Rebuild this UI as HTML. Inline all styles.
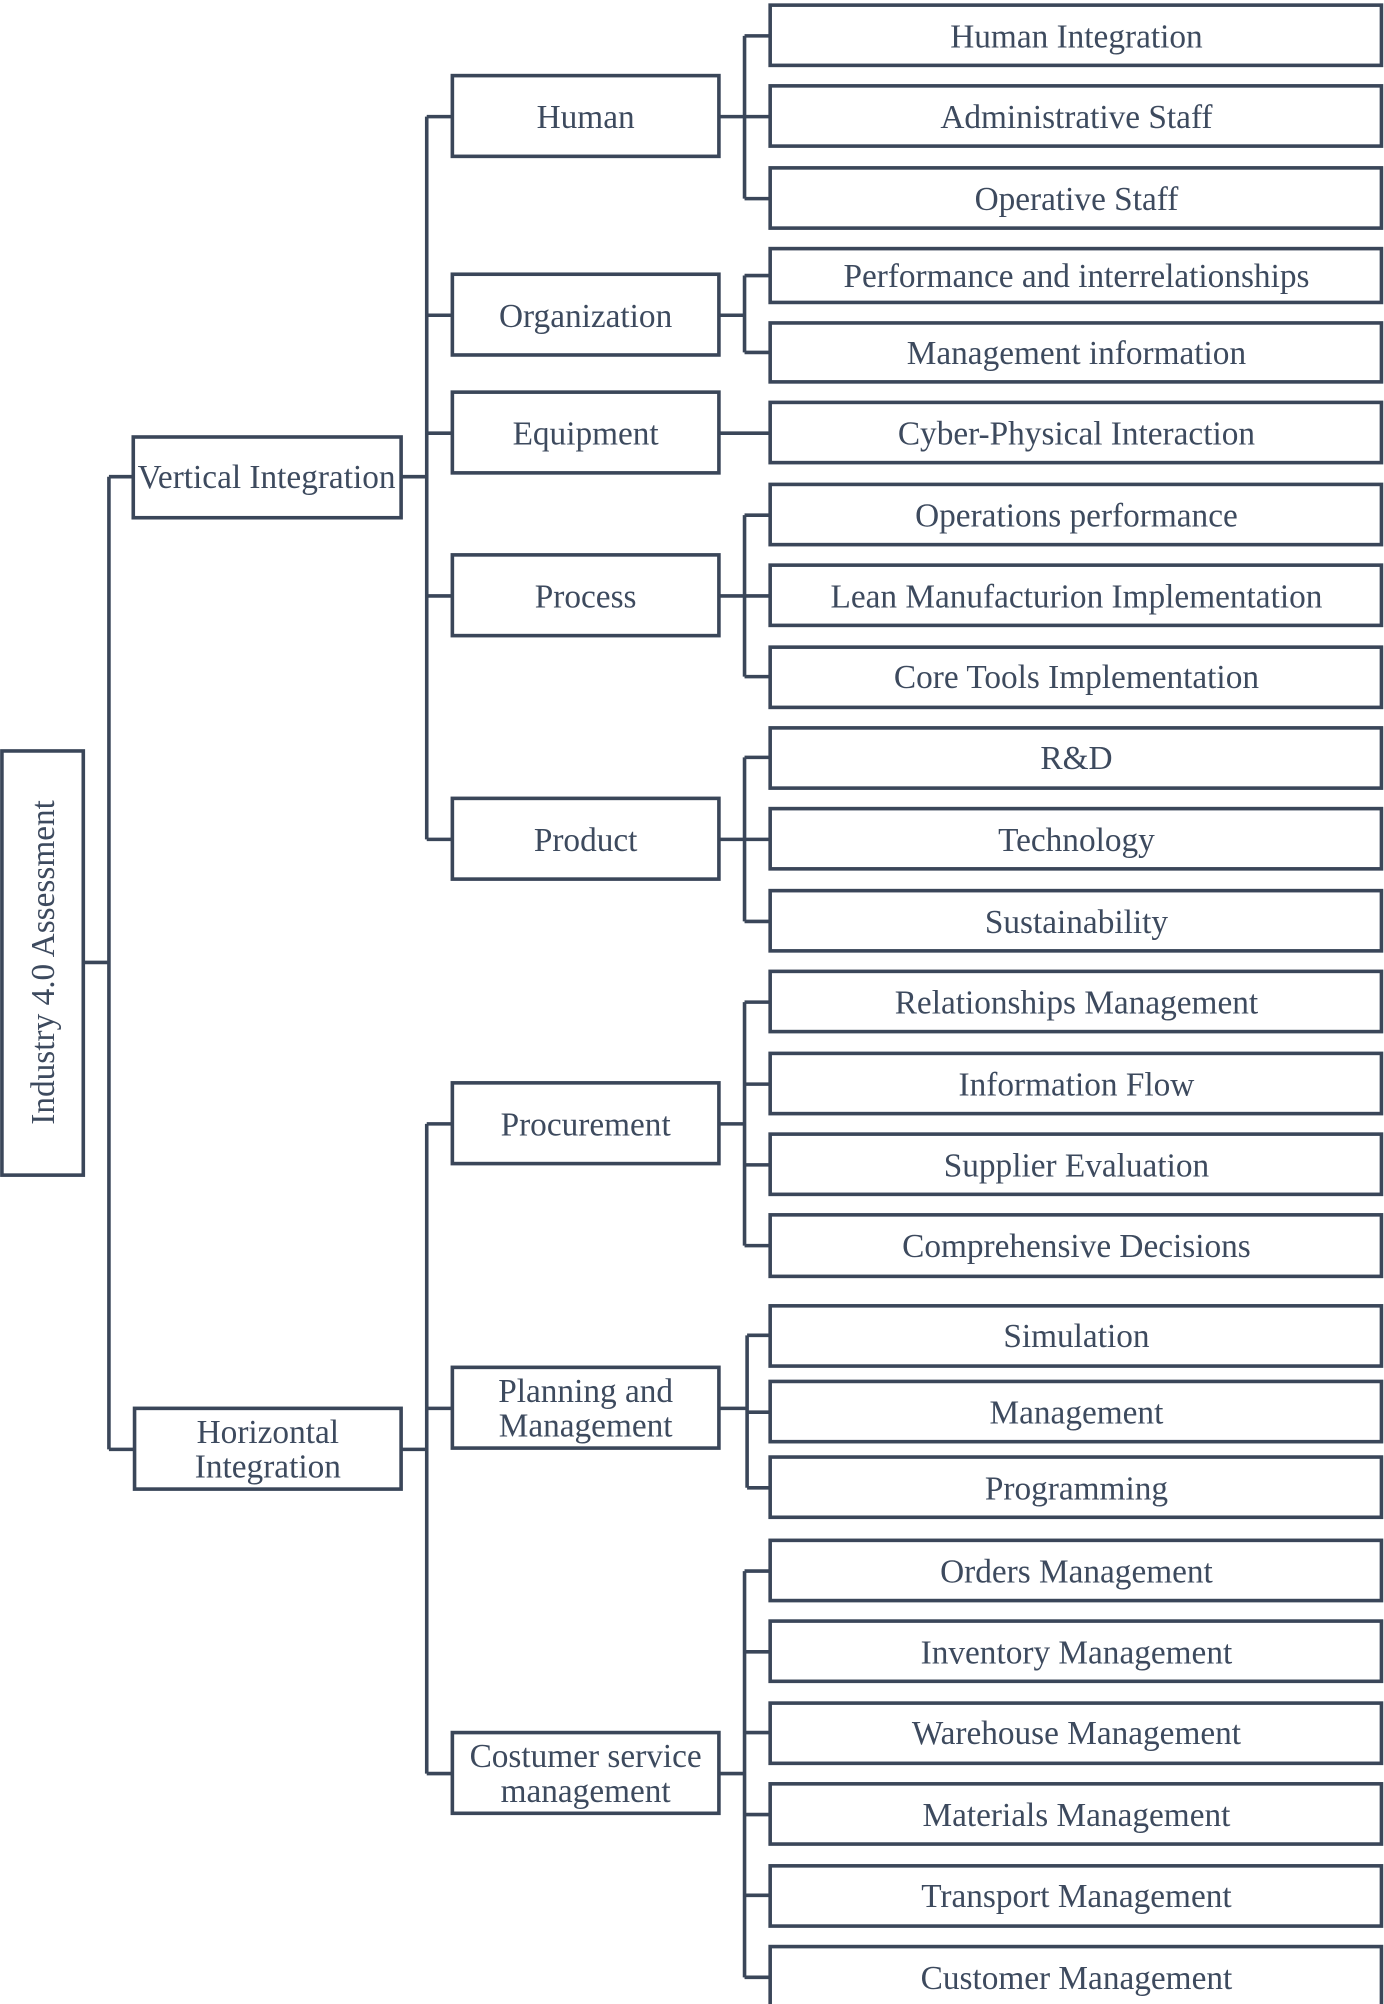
<!DOCTYPE html>
<html><head><meta charset="utf-8"><style>
html,body{margin:0;padding:0;background:#fff;}
svg{display:block;}
text{font-family:"Liberation Serif",serif;fill:#3d4a5e;font-size:26px;text-anchor:middle;}
</style></head><body>
<svg width="1384" height="2004" viewBox="0 0 1080 1563.8" xmlns="http://www.w3.org/2000/svg">
<g fill="none" stroke="#3a4659" stroke-width="2.8">
<rect x="1.5" y="586" width="63.5" height="331"/>
<path d="M65 751 H85 M85 372 V1131 M85 372 H104 M85 1131 H105"/>
<rect x="104" y="341" width="209" height="63"/>
<rect x="105" y="1099" width="208" height="63"/>
<path d="M313 372 H333 M333 91 V655 M333 91 H353 M333 246 H353 M333 338 H353 M333 465 H353 M333 655 H353"/>
<rect x="353" y="59" width="208" height="63"/>
<rect x="353" y="214" width="208" height="63"/>
<rect x="353" y="306" width="208" height="63"/>
<rect x="353" y="433" width="208" height="63"/>
<rect x="353" y="623" width="208" height="63"/>
<path d="M313 1131 H333 M333 877 V1384 M333 877 H353 M333 1099 H353 M333 1384 H353"/>
<rect x="353" y="845" width="208" height="63"/>
<rect x="353" y="1067" width="208" height="63"/>
<rect x="353" y="1352" width="208" height="63"/>
<path d="M561 91 H581 M581 28 V155 M581 28 H601 M581 91 H601 M581 155 H601"/>
<path d="M561 246 H581 M581 215 V275 M581 215 H601 M581 275 H601"/>
<path d="M561 338 H601"/>
<path d="M561 465 H581 M581 402 V528 M581 402 H601 M581 465 H601 M581 528 H601"/>
<path d="M561 655 H581 M581 591 V719 M581 591 H601 M581 655 H601 M581 719 H601"/>
<path d="M561 877 H581 M581 782 V972 M581 782 H601 M581 846 H601 M581 909 H601 M581 972 H601"/>
<path d="M561 1099 H583 M583 1042 V1161 M583 1042 H601 M583 1102 H601 M583 1161 H601"/>
<path d="M561 1384 H581 M581 1226 V1543 M581 1226 H601 M581 1289 H601 M581 1352 H601 M581 1416 H601 M581 1479 H601 M581 1543 H601"/>
<rect x="601" y="4" width="477" height="47"/>
<rect x="601" y="67" width="477" height="47"/>
<rect x="601" y="131" width="477" height="47"/>
<rect x="601" y="194" width="477" height="42"/>
<rect x="601" y="252" width="477" height="46"/>
<rect x="601" y="314" width="477" height="47"/>
<rect x="601" y="378" width="477" height="47"/>
<rect x="601" y="441" width="477" height="47"/>
<rect x="601" y="505" width="477" height="47"/>
<rect x="601" y="568" width="477" height="47"/>
<rect x="601" y="631" width="477" height="47"/>
<rect x="601" y="695" width="477" height="47"/>
<rect x="601" y="758" width="477" height="47"/>
<rect x="601" y="822" width="477" height="47"/>
<rect x="601" y="885" width="477" height="47"/>
<rect x="601" y="948" width="477" height="48"/>
<rect x="601" y="1019" width="477" height="47"/>
<rect x="601" y="1078" width="477" height="47"/>
<rect x="601" y="1137" width="477" height="47"/>
<rect x="601" y="1202" width="477" height="47"/>
<rect x="601" y="1265" width="477" height="47"/>
<rect x="601" y="1329" width="477" height="47"/>
<rect x="601" y="1392" width="477" height="47"/>
<rect x="601" y="1456" width="477" height="47"/>
<rect x="601" y="1519" width="477" height="47"/>
</g>
<text transform="translate(42 751) rotate(-90)">Industry 4.0 Assessment</text>
<text x="208" y="381">Vertical Integration</text>
<text x="209" y="1126">Horizontal</text>
<text x="209" y="1153">Integration</text>
<text x="457" y="100">Human</text>
<text x="457" y="255">Organization</text>
<text x="457" y="347">Equipment</text>
<text x="457" y="474">Process</text>
<text x="457" y="664">Product</text>
<text x="457" y="886">Procurement</text>
<text x="457" y="1094">Planning and</text>
<text x="457" y="1121">Management</text>
<text x="457" y="1379">Costumer service</text>
<text x="457" y="1406">management</text>
<g>
<text x="840" y="37">Human Integration</text>
<text x="840" y="100">Administrative Staff</text>
<text x="840" y="164">Operative Staff</text>
<text x="840" y="224">Performance and interrelationships</text>
<text x="840" y="284">Management information</text>
<text x="840" y="347">Cyber-Physical Interaction</text>
<text x="840" y="411">Operations performance</text>
<text x="840" y="474">Lean Manufacturion Implementation</text>
<text x="840" y="537">Core Tools Implementation</text>
<text x="840" y="600">R&amp;D</text>
<text x="840" y="664">Technology</text>
<text x="840" y="728">Sustainability</text>
<text x="840" y="791">Relationships Management</text>
<text x="840" y="855">Information Flow</text>
<text x="840" y="918">Supplier Evaluation</text>
<text x="840" y="981">Comprehensive Decisions</text>
<text x="840" y="1051">Simulation</text>
<text x="840" y="1111">Management</text>
<text x="840" y="1170">Programming</text>
<text x="840" y="1235">Orders Management</text>
<text x="840" y="1298">Inventory Management</text>
<text x="840" y="1361">Warehouse Management</text>
<text x="840" y="1425">Materials Management</text>
<text x="840" y="1488">Transport Management</text>
<text x="840" y="1552">Customer Management</text>
</g>
</svg>
</body></html>
